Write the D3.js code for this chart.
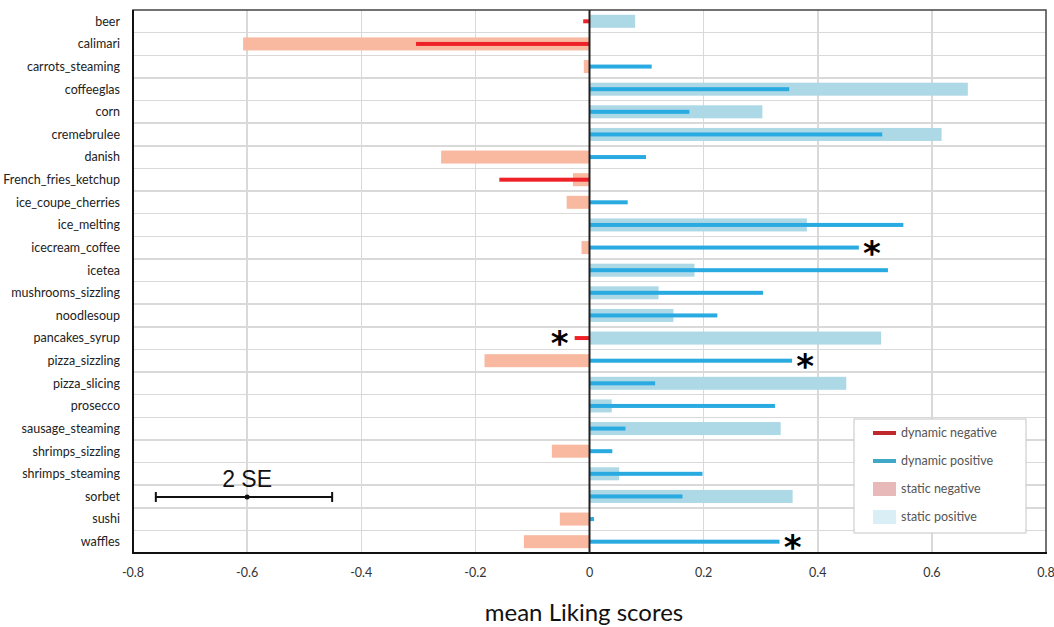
<!DOCTYPE html>
<html lang="en">
<head>
<meta charset="utf-8">
<title>mean Liking scores</title>
<style>
  body { margin: 0; background: #fff; }
  .grid line { stroke: #d9d9d9; stroke-width: 1.5px; shape-rendering: crispEdges; }
  .cat { font-family: Lato, "Open Sans", sans-serif; font-size: 12.5px; fill: #222; }
  .tick-lab { font-family: Lato, "Open Sans", sans-serif; font-size: 12.5px; fill: #333; }
  .legend text { font-family: Lato, "Open Sans", sans-serif; font-size: 12.5px; fill: #555; }
</style>
</head>
<body>
<div id="chart"></div>
<script src="https://cdn.jsdelivr.net/npm/d3@7"></script>
<script>
var categories = ["beer", "calimari", "carrots_steaming", "coffeeglas", "corn", "cremebrulee",
  "danish", "French_fries_ketchup", "ice_coupe_cherries", "ice_melting", "icecream_coffee",
  "icetea", "mushrooms_sizzling", "noodlesoup", "pancakes_syrup", "pizza_sizzling",
  "pizza_slicing", "prosecco", "sausage_steaming", "shrimps_sizzling", "shrimps_steaming",
  "sorbet", "sushi", "waffles"];

// static (wide, pale) bars
var staticValues = [0.080, -0.607, -0.010, 0.663, 0.303, 0.617, -0.260, -0.029, -0.040, 0.381,
  -0.014, 0.184, 0.121, 0.147, 0.511, -0.184, 0.450, 0.039, 0.335, -0.066, 0.052, 0.356, -0.052, -0.115];

// dynamic (thin, saturated) bars
var dynamicValues = [-0.011, -0.304, 0.109, 0.350, 0.175, 0.513, 0.099, -0.158, 0.067, 0.550,
  0.472, 0.523, 0.304, 0.224, -0.026, 0.355, 0.115, 0.325, 0.063, 0.040, 0.198, 0.163, 0.008, 0.333];

var starred = ["icecream_coffee", "pancakes_syrup", "pizza_sizzling", "waffles"];

var xTicks = [-0.8, -0.6, -0.4, -0.2, 0, 0.2, 0.4, 0.6, 0.8];
var xTickLabels = ["-0.8", "-0.6", "-0.4", "-0.2", "0", "0.2", "0.4", "0.6", "0.8"];
var seCenter = -0.6, seLow = -0.76, seHigh = -0.451;

var legendItems = [
  { label: "dynamic negative", type: "line", color: "#c0282d" },
  { label: "dynamic positive", type: "line", color: "#3fa8c8" },
  { label: "static negative", type: "rect", color: "#e8b9b9" },
  { label: "static positive", type: "rect", color: "#daeef6" }
];

var W = 1054, H = 627;
var pLeft = 133, pRight = 1046, pTop = 10, pBottom = 553;

var svg = d3.select("#chart").append("svg").attr("width", W).attr("height", H);

var x = d3.scaleLinear().domain([-0.8, 0.8]).range([pLeft, pRight]);
var y = d3.scaleBand().domain(categories).range([pTop, pBottom]);

// grid
var grid = svg.append("g").attr("class", "grid");
grid.selectAll(".v").data(xTicks.slice(1, -1)).enter().append("line")
  .attr("x1", function(d) { return x(d); }).attr("x2", function(d) { return x(d); })
  .attr("y1", pTop).attr("y2", pBottom);
grid.selectAll(".h").data(categories.slice(1)).enter().append("line")
  .attr("x1", pLeft).attr("x2", pRight)
  .attr("y1", function(d) { return y(d); }).attr("y2", function(d) { return y(d); });

var rows = categories.map(function(c, i) {
  return { cat: c, s: staticValues[i], d: dynamicValues[i] };
});

var bw = y.bandwidth();

// static bars
svg.append("g").selectAll("rect").data(rows).enter().append("rect")
  .attr("x", function(d) { return x(Math.min(0, d.s)); })
  .attr("width", function(d) { return Math.abs(x(d.s) - x(0)); })
  .attr("y", function(d) { return y(d.cat) + bw / 2 - 6.5; })
  .attr("height", 13)
  .attr("fill", function(d) { return d.s < 0 ? "#f8b9a0" : "#add8e6"; });

// dynamic bars
svg.append("g").selectAll("rect").data(rows).enter().append("rect")
  .attr("x", function(d) { return x(Math.min(0, d.d)); })
  .attr("width", function(d) { return Math.abs(x(d.d) - x(0)); })
  .attr("y", function(d) { return y(d.cat) + bw / 2 - 2; })
  .attr("height", 4)
  .attr("fill", function(d) { return d.d < 0 ? "#ee2128" : "#29abe2"; });

// significance stars, placed just past the dynamic bar
svg.append("g").selectAll("text").data(rows.filter(function(r) { return starred.indexOf(r.cat) >= 0; }))
  .enter().append("text")
  .attr("x", function(d) { return d.d < 0 ? x(d.d) - 15 : x(d.d) + 13; })
  .attr("y", function(d) { return y(d.cat) + bw / 2 + 17; })
  .attr("text-anchor", "middle")
  .style("font-family", "'DejaVu Sans', sans-serif")
  .style("font-size", "34px")
  .style("font-weight", "bold")
  .attr("fill", "#000")
  .text("*");

// frame
svg.append("rect").attr("x", pLeft).attr("y", pTop).attr("width", pRight - pLeft).attr("height", pBottom - pTop)
  .attr("fill", "none").attr("stroke", "#444").attr("stroke-width", 1.5);
svg.append("line").attr("x1", pLeft).attr("x2", pLeft).attr("y1", pTop).attr("y2", pBottom + 1)
  .attr("stroke", "#111").attr("stroke-width", 2);
svg.append("line").attr("x1", pLeft - 1).attr("x2", pRight + 1).attr("y1", pBottom).attr("y2", pBottom)
  .attr("stroke", "#111").attr("stroke-width", 2);
svg.append("line").attr("x1", x(0)).attr("x2", x(0)).attr("y1", pTop).attr("y2", pBottom)
  .attr("stroke", "#222").attr("stroke-width", 2);

// category labels
svg.append("g").selectAll("text").data(categories).enter().append("text")
  .attr("class", "cat")
  .attr("x", 120)
  .attr("y", function(d) { return y(d) + bw / 2; })
  .attr("dy", "0.35em")
  .attr("text-anchor", "end")
  .text(function(d) { return d; });

// x tick labels
svg.append("g").selectAll("text").data(xTicks).enter().append("text")
  .attr("class", "tick-lab")
  .attr("x", function(d) { return x(d); })
  .attr("y", 577)
  .attr("text-anchor", "middle")
  .text(function(d, i) { return xTickLabels[i]; });

svg.append("text")
  .attr("x", 584).attr("y", 621)
  .attr("text-anchor", "middle")
  .style("font-family", "Lato, 'Open Sans', sans-serif")
  .style("font-size", "24px")
  .attr("fill", "#111")
  .text("mean Liking scores");

// 2 SE reference bar
var seY = 497;
var se = svg.append("g").attr("stroke", "#111").attr("stroke-width", 2);
se.append("line").attr("x1", x(seLow)).attr("x2", x(seHigh)).attr("y1", seY).attr("y2", seY);
se.append("line").attr("x1", x(seLow)).attr("x2", x(seLow)).attr("y1", seY - 5).attr("y2", seY + 5);
se.append("line").attr("x1", x(seHigh)).attr("x2", x(seHigh)).attr("y1", seY - 5).attr("y2", seY + 5);
svg.append("circle").attr("cx", x(seCenter)).attr("cy", seY).attr("r", 2.5).attr("fill", "#111");
svg.append("text").attr("x", x(seCenter)).attr("y", 487)
  .attr("text-anchor", "middle")
  .style("font-family", "'Liberation Sans', Arial, sans-serif")
  .style("font-size", "23px")
  .attr("fill", "#111")
  .text("2 SE");

// legend
var lg = svg.append("g").attr("class", "legend");
lg.append("rect").attr("x", 854).attr("y", 419).attr("width", 172).attr("height", 114)
  .attr("fill", "#fff").attr("stroke", "#cfcfcf").attr("stroke-width", 1.2);
var li = lg.selectAll(".item").data(legendItems).enter().append("g")
  .attr("transform", function(d, i) { return "translate(873," + (433 + i * 28) + ")"; });
li.filter(function(d) { return d.type === "line"; }).append("rect")
  .attr("x", 0).attr("y", -2).attr("width", 23).attr("height", 4)
  .attr("fill", function(d) { return d.color; });
li.filter(function(d) { return d.type === "rect"; }).append("rect")
  .attr("x", 0).attr("y", -7).attr("width", 23).attr("height", 14)
  .attr("fill", function(d) { return d.color; });
li.append("text").attr("x", 28).attr("dy", "0.35em").text(function(d) { return d.label; });
</script>
</body>
</html>
